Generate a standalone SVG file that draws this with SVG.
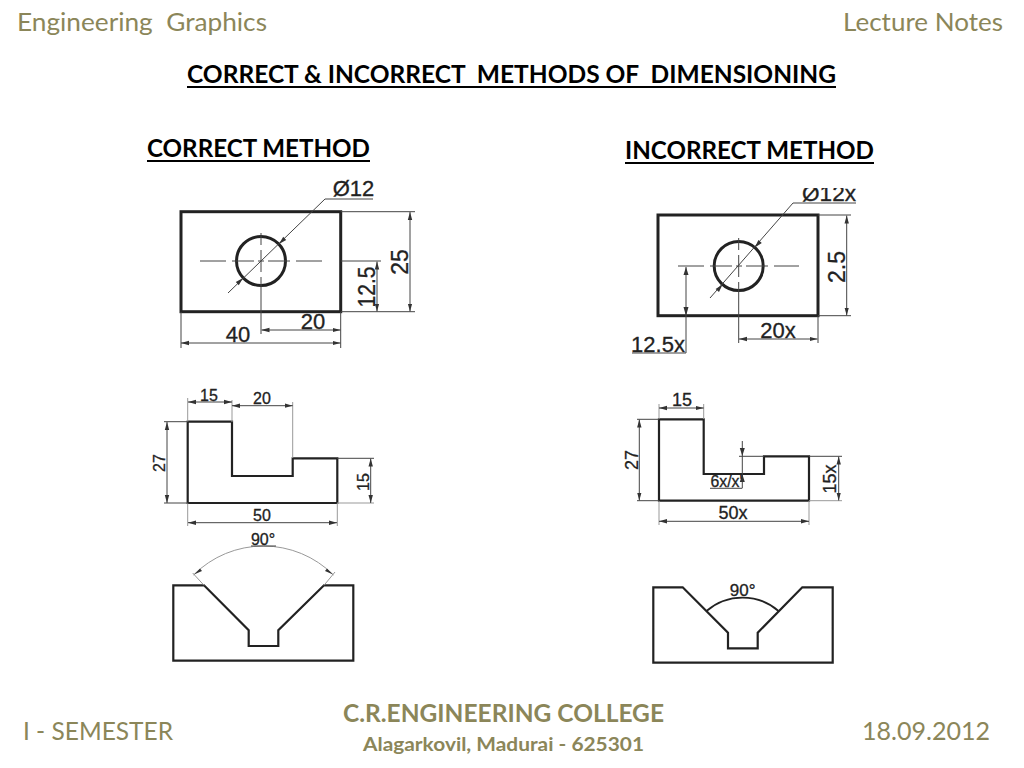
<svg xmlns="http://www.w3.org/2000/svg" width="1024" height="768" viewBox="0 0 1024 768">
<style>
.hd{font-family:Lato,"Liberation Sans",sans-serif;fill:#8b8659;white-space:pre}
.ti{font-family:Lato,"Liberation Sans",sans-serif;font-weight:700;fill:#000;white-space:pre}
.d{font-family:"Liberation Sans",Arial,sans-serif;fill:#222;stroke:#222;stroke-width:.3;text-anchor:middle}
.ul{stroke:#000;stroke-width:2;fill:none}
.o{fill:none;stroke:#222;stroke-width:3}
.o2{fill:none;stroke:#222;stroke-width:2.2}
.dim{fill:none;stroke:#444;stroke-width:1;marker-start:url(#as);marker-end:url(#ae)}
.l{fill:none;stroke:#444;stroke-width:1}
.g{fill:none;stroke:#999;stroke-width:1}
.a{fill:#333}
</style>
<defs>
<marker id="ae" markerWidth="8" markerHeight="6" refX="8" refY="3" orient="auto" markerUnits="userSpaceOnUse"><path d="M0 .8L8 3L0 5.200z" fill="#333"/></marker>
<marker id="as" markerWidth="8" markerHeight="6" refX="0" refY="3" orient="auto" markerUnits="userSpaceOnUse"><path d="M8 .8L0 3L8 5.200z" fill="#333"/></marker>
</defs>
<rect width="1024" height="768" fill="#fff"/>
<g id="header">
<text class="hd" x="17" y="31" font-size="25" textLength="250" lengthAdjust="spacingAndGlyphs">Engineering  Graphics</text>
<text class="hd" x="843" y="31" font-size="25" textLength="160" lengthAdjust="spacingAndGlyphs">Lecture Notes</text>
<text class="ti" x="187" y="83" font-size="24" textLength="649" lengthAdjust="spacingAndGlyphs">CORRECT &amp; INCORRECT  METHODS OF  DIMENSIONING</text>
<line class="ul" x1="187" y1="87" x2="836" y2="87"/>
<text class="ti" x="147" y="157" font-size="24" textLength="223" lengthAdjust="spacingAndGlyphs">CORRECT METHOD</text>
<line class="ul" x1="147" y1="161" x2="370" y2="161"/>
<text class="ti" x="625" y="159" font-size="24" textLength="249" lengthAdjust="spacingAndGlyphs">INCORRECT METHOD</text>
<line class="ul" x1="625" y1="163" x2="874" y2="163"/>
</g>
<g id="footer">
<text class="hd" x="23" y="740" font-size="25" textLength="150" lengthAdjust="spacingAndGlyphs">I - SEMESTER</text>
<text class="hd" x="862" y="740" font-size="25" textLength="128" lengthAdjust="spacingAndGlyphs">18.09.2012</text>
<text class="hd" x="343" y="722" font-size="24" font-weight="700" textLength="321" lengthAdjust="spacingAndGlyphs">C.R.ENGINEERING COLLEGE</text>
<text class="hd" x="363" y="751" font-size="19.5" font-weight="700" textLength="281" lengthAdjust="spacingAndGlyphs">Alagarkovil, Madurai - 625301</text>
</g>
<g id="correct-plate">
<rect class="o" x="181" y="211.700" width="159.700" height="100"/>
<circle class="o" cx="261" cy="261" r="24.500"/>
<path class="l" d="M200 261H226M232 261H254M258 261H264M268 261H290M296 261H322M261 233V245M261 250V272M261 277V334M340.700 211.700H415M340.700 311.700H415M340.700 261H381M181 312V348M340.700 312V348M228 293L325 199H373"/>
<path class="dim" d="M410 212V311.500"/>
<path class="dim" d="M377 261.500V311.500"/>
<path class="dim" d="M181 343H340.500"/>
<path class="dim" d="M261.500 330H340.500"/>
<path class="a" d="M279 244L286.200 240L283.200 236.800zM243 278L235.800 282L238.800 285.200z"/>
<text class="d" x="353.500" y="196" font-size="22">Ø12</text>
<text class="d" x="238" y="342" font-size="22">40</text>
<text class="d" x="313" y="329" font-size="22">20</text>
<text class="d" font-size="23" transform="translate(408 262) rotate(-90)">25</text>
<text class="d" font-size="24" textLength="41" lengthAdjust="spacingAndGlyphs" transform="translate(375 287) rotate(-90)">12.5</text>
</g>
<g id="incorrect-plate">
<rect class="o" x="658" y="215" width="160" height="100.700"/>
<circle class="o" cx="738.700" cy="266" r="24.500"/>
<path class="l" d="M678 266H704M710 266H732M736 266H742M746 266H768M774 266H799M738.700 238V250M738.700 255V277M738.700 282V343M818 215H851M818 315.700H851M818 316V343M710 298L793 203H856M632 353H686"/>
<path class="dim" d="M846.700 215.500V315.500"/>
<path class="dim" d="M739 339H817.500"/>
<path class="l" d="M686 267V353"/>
<path class="a" d="M683.500 275H688.500L686 267zM683.500 307H688.500L686 316z"/>
<path class="a" d="M754.800 247.500L761.800 243L758.400 240zM722.600 284.500L715.600 289L719 292z"/>
<text class="d" x="829" y="201" font-size="22" textLength="54" lengthAdjust="spacingAndGlyphs">Ø12x</text>
<rect x="798" y="178" width="64" height="10" fill="#fff"/>
<text class="d" x="778" y="338" font-size="22">20x</text>
<text class="d" x="658" y="352" font-size="22">12.5x</text>
<text class="d" font-size="23" transform="translate(845 267) rotate(-90)">2.5</text>
</g>
<g id="correct-profile">
<path class="o2" d="M187.700 421.700H232V476H292.700V458.300H337.300V503H187.700Z"/>
<path class="g" d="M187.700 398V422M232 400V422M292.700 402V458M187.700 503V526M337.300 503V526M337 503H374"/>
<path class="l" d="M164 421.700H188M164 503H188M337 458.300H374"/>
<path class="dim" d="M188 402H232"/>
<path class="dim" d="M232 405.700H292.700"/>
<path class="dim" d="M167 422V503"/>
<path class="dim" d="M370.700 458.500V503"/>
<path class="dim" d="M188 522.700H337"/>
<text class="d" x="209" y="401" font-size="16">15</text>
<text class="d" x="262" y="404" font-size="16">20</text>
<text class="d" x="262" y="521" font-size="16">50</text>
<text class="d" font-size="16" transform="translate(165 463) rotate(-90)">27</text>
<text class="d" font-size="16" transform="translate(369 482) rotate(-90)">15</text>
</g>
<g id="incorrect-profile">
<path class="o2" d="M659 419.300H703.700V474H764V456.300H809V500.700H659Z"/>
<path class="g" d="M659 404V419M703.700 404V419M659 501V525M809 501V525M809 500.700H842"/>
<path class="l" d="M637 419.300H659M637 500.700H659M739 456.300H764M809 456.300H842M742.300 441V488M710 488.300H742.300"/>
<path class="dim" d="M659 408H703.700"/>
<path class="dim" d="M639.300 419.500V500.500"/>
<path class="dim" d="M838.700 456.500V500.500"/>
<path class="dim" d="M659 521.300H809"/>
<path class="a" d="M739.800 448H744.800L742.300 456zM739.800 482H744.800L742.300 474z"/>
<text class="d" x="682" y="406" font-size="18">15</text>
<text class="d" x="726.500" y="487" font-size="17" textLength="32" lengthAdjust="spacingAndGlyphs">6x/x'</text>
<text class="d" x="733" y="519" font-size="18">50x</text>
<text class="d" font-size="18" transform="translate(638 460) rotate(-90)">27</text>
<text class="d" font-size="18" transform="translate(836 479) rotate(-90)">15x</text>
</g>
<g id="correct-vee">
<path class="o2" d="M173.300 585.300H204L248.700 630.300V646H278.300V630.300L324 585.300H353.300V660.700H173.300Z"/>
<path class="g" d="M192.700 573L204 585.300M335 572L324 585.300"/>
<path class="g" d="M193.500 575A99 99 0 0 1 333.500 575"/>
<path class="a" d="M194 574.500L200 568.500L202 571zM333 574.500L327 568.500L325 571z"/>
<line class="l" x1="251" y1="546" x2="276" y2="546"/>
<text class="d" x="263" y="545" font-size="16">90°</text>
</g>
<g id="incorrect-vee">
<path class="o2" d="M653.300 587.300H682.700L728 632.700V648.300H757.700V632.700L802.300 587.300H832.700V662.700H653.300Z"/>
<path class="o2" d="M706.500 611A55 55 0 0 1 778.500 611" style="stroke-width:1.800"/>
<text class="d" x="742.700" y="596" font-size="17">90°</text>
</g>
</svg>
